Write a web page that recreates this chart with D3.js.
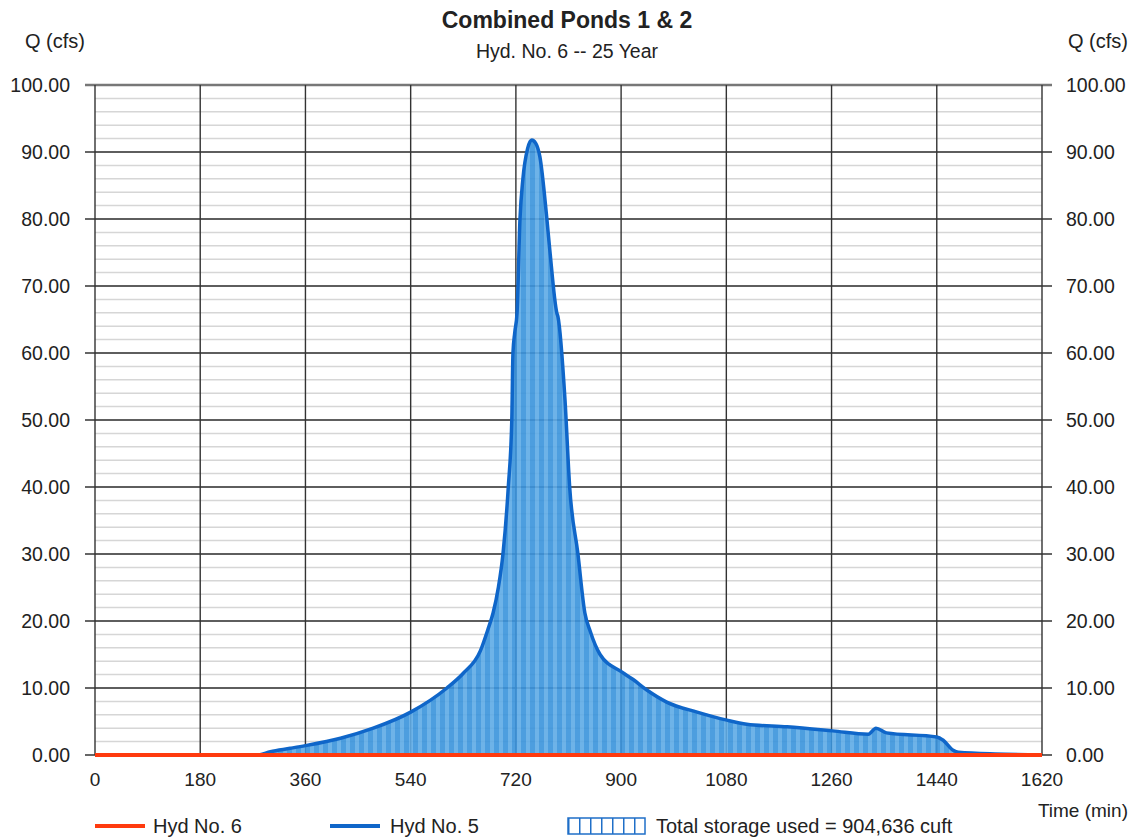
<!DOCTYPE html>
<html>
<head>
  <style>
    body { margin: 0; background: #fff; }
    text { font-family: "Liberation Sans", Arial, sans-serif; fill: #222; }
  </style>
</head>
<body>
  <svg id="chart" width="1139" height="838"></svg>
  <script src="https://d3js.org/d3.v7.min.js"></script>
  <script>
    // Hyd No. 5 (inflow) hydrograph
    const hyd5Time = [0, 279, 300, 334, 360, 420, 476, 540, 602, 630, 659, 672, 681, 690, 698, 707, 713, 715, 718, 722, 727, 732, 740, 747, 754, 761, 773, 778, 790, 792, 804, 812, 826, 838, 847, 864, 901, 920, 944, 978, 1030, 1081, 1115, 1184, 1262, 1323, 1336, 1354, 1440, 1451, 1468, 1477, 1540, 1620]
    const hyd5Q    = [0, 0, 0.5, 1.0, 1.4, 2.5, 4.0, 6.4, 10.0, 12.2, 15.5, 18.7, 21.2, 25.0, 30.1, 40.0, 50.0, 60.0, 63.0, 66.0, 80.0, 86.0, 90.5, 91.8, 91.3, 89.3, 80.0, 75.4, 66.0, 65.4, 53.0, 40.0, 30.1, 21.2, 18.5, 15.0, 12.4, 11.3, 9.7, 7.9, 6.4, 5.2, 4.6, 4.2, 3.6, 3.1, 4.0, 3.3, 2.7, 2.2, 0.7, 0.4, 0.15, 0.05]
    // Hyd No. 6 (outflow) hydrograph
    const hyd6Time = [0, 1620]
    const hyd6Q    = [0, 0]

    const xTicks = [0, 180, 360, 540, 720, 900, 1080, 1260, 1440, 1620]
    const yTicks = [0, 10, 20, 30, 40, 50, 60, 70, 80, 90, 100]
    const yMinor = d3.range(0, 101, 2)

    const svg = d3.select('#chart')
    const plotL = 95, plotR = 1042, plotT = 85, plotB = 755

    const x = d3.scaleLinear().domain([0, 1620]).range([plotL, plotR])
    const y = d3.scaleLinear().domain([0, 100]).range([plotB, plotT])

    // stripe pattern for the storage fill
    const defs = svg.append('defs')
    const pat = defs.append('pattern').attr('id', 'stripes')
      .attr('patternUnits', 'userSpaceOnUse').attr('width', 9).attr('height', 10)
    pat.append('rect').attr('width', 9).attr('height', 10).attr('fill', '#3a93dc')
    pat.append('rect').attr('x', 4).attr('width', 4).attr('height', 10).attr('fill', '#5eabe6')

    const legPat = defs.append('pattern').attr('id', 'legstripes')
      .attr('patternUnits', 'userSpaceOnUse').attr('width', 11).attr('height', 20).attr('x', 568)
    legPat.append('rect').attr('width', 11).attr('height', 20).attr('fill', '#fff')
    legPat.append('rect').attr('width', 1.5).attr('height', 20).attr('fill', '#1f6fc8')

    // minor gridlines
    svg.append('g').selectAll('line').data(yMinor).join('line')
      .attr('x1', plotL).attr('x2', plotR)
      .attr('y1', d => y(d)).attr('y2', d => y(d))
      .attr('stroke', '#d6d6d6').attr('stroke-width', 1.5)

    // major gridlines
    svg.append('g').selectAll('line').data(yTicks).join('line')
      .attr('x1', plotL - 10).attr('x2', plotR + 10)
      .attr('y1', d => y(d)).attr('y2', d => y(d))
      .attr('stroke', d => d === 100 ? '#777' : '#333').attr('stroke-width', d => d === 100 ? 2.5 : 1.4)
    svg.append('g').selectAll('line').data(xTicks).join('line')
      .attr('x1', d => x(d)).attr('x2', d => x(d))
      .attr('y1', plotT).attr('y2', plotB)
      .attr('stroke', '#333').attr('stroke-width', 1.4)

    const pts = hyd5Time.map((t, i) => [t, hyd5Q[i]])
    const area = d3.area().x(d => x(d[0])).y0(y(0)).y1(d => y(d[1])).curve(d3.curveMonotoneX)
    const line = d3.line().x(d => x(d[0])).y(d => y(d[1])).curve(d3.curveMonotoneX)

    svg.append('path').datum(pts).attr('d', area)
      .attr('fill', 'url(#stripes)').attr('fill-opacity', 0.9)
    svg.append('path').datum(pts).attr('d', line)
      .attr('fill', 'none').attr('stroke', '#0f66c9').attr('stroke-width', 3.5)

    const pts6 = hyd6Time.map((t, i) => [t, hyd6Q[i]])
    svg.append('path').datum(pts6).attr('d', d3.line().x(d => x(d[0])).y(d => y(d[1])))
      .attr('fill', 'none').attr('stroke', '#ff3a0e').attr('stroke-width', 4)

    // axis labels
    svg.append('g').selectAll('text').data(yTicks).join('text')
      .attr('x', 70).attr('y', d => y(d) + 7).attr('text-anchor', 'end')
      .attr('font-size', 19.5).text(d => d.toFixed(2))
    svg.append('g').selectAll('text').data(yTicks).join('text')
      .attr('x', 1066).attr('y', d => y(d) + 7)
      .attr('font-size', 19.5).text(d => d.toFixed(2))
    svg.append('g').selectAll('text').data(xTicks).join('text')
      .attr('x', d => x(d)).attr('y', 786).attr('text-anchor', 'middle')
      .attr('font-size', 19).text(d => d)

    // titles
    svg.append('text').attr('x', 567).attr('y', 28).attr('text-anchor', 'middle')
      .attr('font-size', 23).attr('font-weight', 'bold').text('Combined Ponds 1 & 2')
    svg.append('text').attr('x', 567).attr('y', 58).attr('text-anchor', 'middle')
      .attr('font-size', 19.5).text('Hyd. No. 6 -- 25 Year')
    svg.append('text').attr('x', 25).attr('y', 48).attr('font-size', 20).text('Q (cfs)')
    svg.append('text').attr('x', 1128).attr('y', 48).attr('text-anchor', 'end').attr('font-size', 20).text('Q (cfs)')
    svg.append('text').attr('x', 1128).attr('y', 817).attr('text-anchor', 'end')
      .attr('font-size', 19).text('Time (min)')

    // legend
    svg.append('line').attr('x1', 95).attr('x2', 145).attr('y1', 826).attr('y2', 826)
      .attr('stroke', '#ff3a0e').attr('stroke-width', 4)
    svg.append('text').attr('x', 153).attr('y', 833).attr('font-size', 20).text('Hyd No. 6')
    svg.append('line').attr('x1', 330).attr('x2', 380).attr('y1', 826).attr('y2', 826)
      .attr('stroke', '#0f66c9').attr('stroke-width', 4)
    svg.append('text').attr('x', 390).attr('y', 833).attr('font-size', 20).text('Hyd No. 5')
    svg.append('rect').attr('x', 568).attr('y', 818).attr('width', 77).attr('height', 16)
      .attr('fill', 'url(#legstripes)').attr('stroke', '#1f6fc8').attr('stroke-width', 1.5)
    svg.append('text').attr('x', 656).attr('y', 833).attr('font-size', 20).text('Total storage used = 904,636 cuft')
  </script>
</body>
</html>
